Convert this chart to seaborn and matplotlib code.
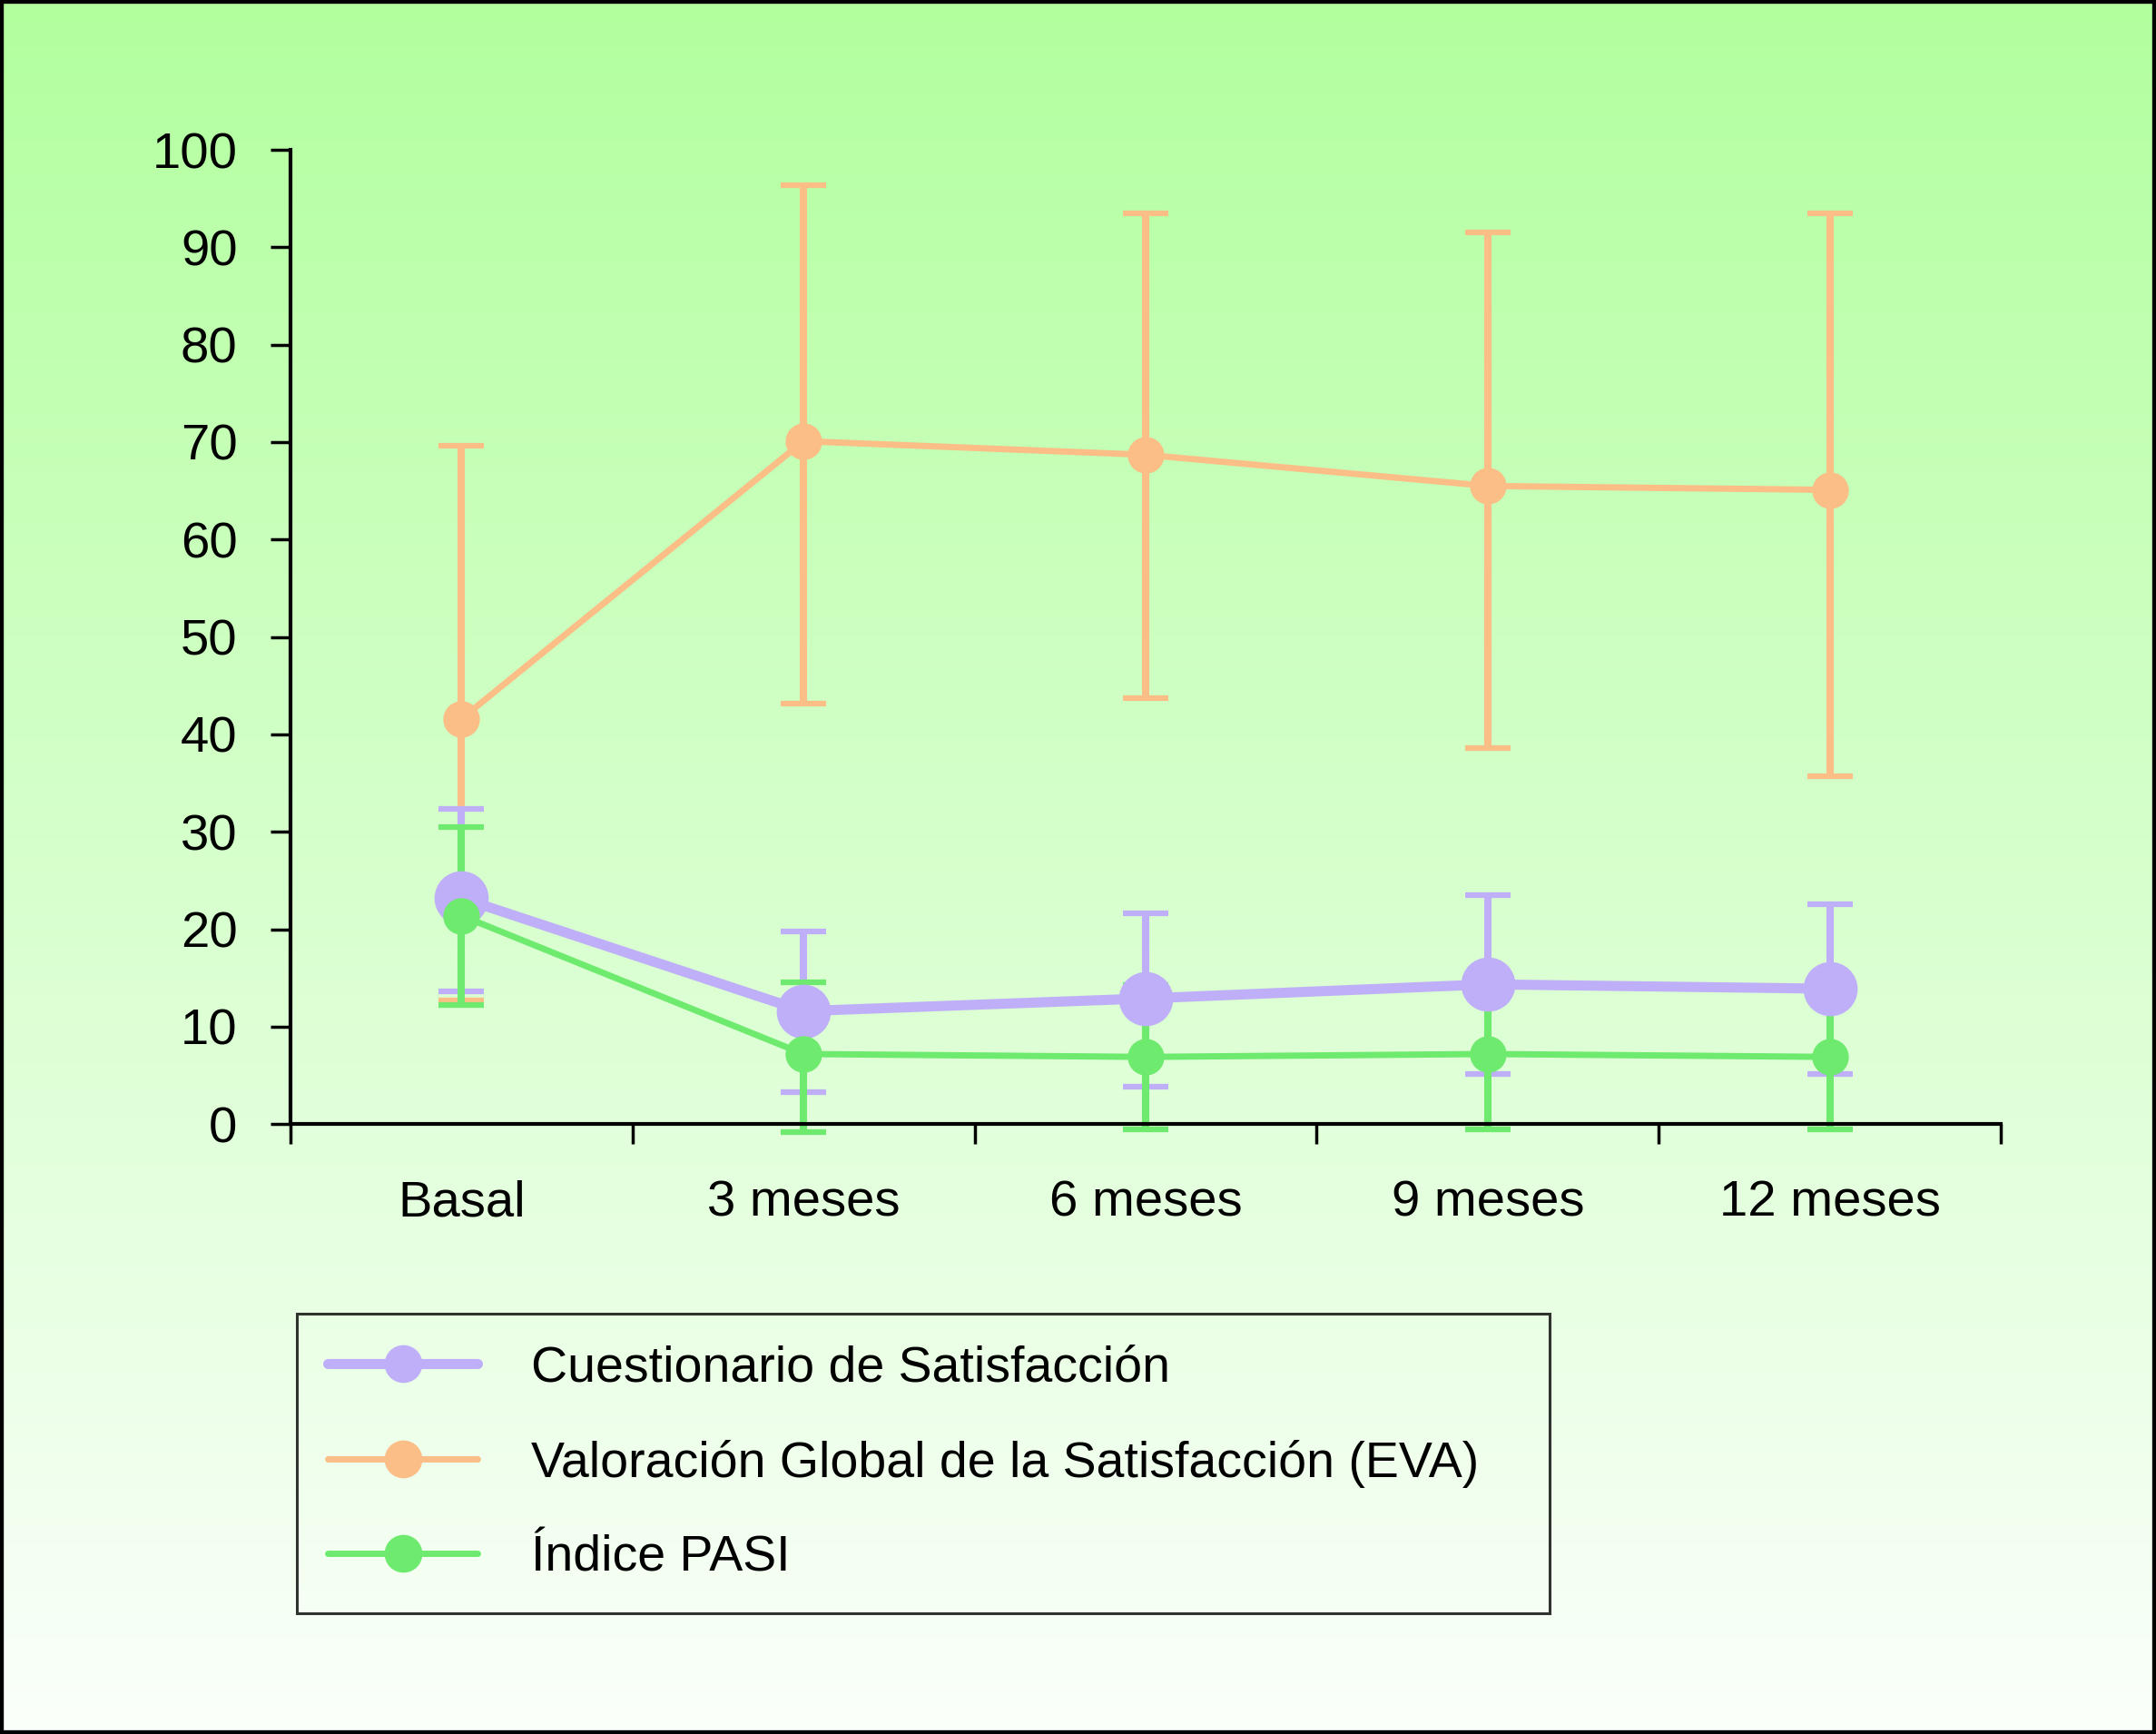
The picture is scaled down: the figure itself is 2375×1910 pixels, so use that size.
import numpy as np
import pandas as pd
import matplotlib
matplotlib.use("Agg")
import matplotlib.pyplot as plt
import seaborn as sns
from matplotlib.colors import LinearSegmentedColormap
from matplotlib.lines import Line2D
from matplotlib.patches import Rectangle

# ---------------- data ----------------
categories = ["Basal", "3 meses", "6 meses", "9 meses", "12 meses"]
series_names = ["Cuestionario de Satisfacción",
                "Valoración Global de la Satisfacción (EVA)",
                "Índice PASI"]
cuest_mean = [23.2, 11.6, 12.9, 14.35, 13.9]
cuest_top = [32.4, 19.8, 21.6, 23.5, 22.55]
cuest_bottom = [13.6, 3.3, 3.8, 5.15, 5.15]
eva_mean = [41.6, 70.1, 68.7, 65.5, 65.1]
eva_top = [69.6, 96.4, 93.5, 91.5, 93.5]
eva_bottom = [12.7, 43.2, 43.7, 38.6, 35.7]
pasi_mean = [21.4, 7.2, 6.9, 7.2, 6.9]
pasi_top = [30.5, 14.6, 14.3, 14.9, 14.3]
pasi_bottom = [12.2, -0.8, -0.5, -0.5, -0.5]
yticks = [0, 10, 20, 30, 40, 50, 60, 70, 80, 90, 100]

colors = {"cuest": "#bfaff8", "eva": "#fbbe87", "pasi": "#6eea6e"}

# ---------------- style ----------------
sns.set_style("ticks")
plt.rcParams['font.family'] = ['Liberation Sans', 'DejaVu Sans']
plt.rcParams['text.color'] = 'black'
plt.rcParams['legend.labelcolor'] = 'black'

fig = plt.figure(figsize=(23.75, 19.10), dpi=100)
fig.patch.set_facecolor("white")

# gradient background
bg = fig.add_axes([0, 0, 1, 1], zorder=-10)
bg.axis("off")
grad = np.linspace(0, 1, 256).reshape(-1, 1)
cmap = LinearSegmentedColormap.from_list("g", ["#b2ff9e", "#fbfffb"])
bg.imshow(grad, aspect="auto", cmap=cmap, extent=[0, 1, 0, 1], origin="upper")
bg.set_xlim(0, 1)
bg.set_ylim(0, 1)

ax = fig.add_axes([0.1347, 0.3517, 0.928 - 0.1347, 0.9136 - 0.3517])
ax.set_facecolor("none")

pos = np.arange(len(categories))
n = len(categories)
df = pd.DataFrame({
    "pos": np.tile(pos, 3),
    "value": cuest_mean + eva_mean + pasi_mean,
    "top": cuest_top + eva_top + pasi_top,
    "bottom": cuest_bottom + eva_bottom + pasi_bottom,
    "serie": np.repeat(["cuest", "eva", "pasi"], n),
})

# error bars first (below lines)
eb_order = [("eva", 2.0), ("cuest", 2.1), ("pasi", 2.2)]
for key, z in eb_order:
    sub = df[df["serie"] == key]
    yerr = np.vstack([sub["value"] - sub["bottom"], sub["top"] - sub["value"]])
    cont = ax.errorbar(sub["pos"], sub["value"], yerr=yerr, fmt="none",
                       ecolor=colors[key], elinewidth=5.8, capsize=18,
                       capthick=4.5, zorder=z)
    for art in cont.get_children():
        art.set_clip_on(False)

line_styles = {
    "eva": dict(lw=5, ms=29, z=3.0),
    "cuest": dict(lw=8, ms=43, z=3.1),
    "pasi": dict(lw=5, ms=29, z=3.2),
}
for key in ["eva", "cuest", "pasi"]:
    sub = df[df["serie"] == key]
    st = line_styles[key]
    sns.lineplot(data=sub, x="pos", y="value", ax=ax, color=colors[key],
                 linewidth=st["lw"], marker="o", markersize=st["ms"],
                 markeredgewidth=0, zorder=st["z"], legend=False,
                 clip_on=False)

ax.set_xlim(-0.5, 4.5)
ax.set_ylim(0, 100)
ax.set_xlabel("")
ax.set_ylabel("")
for s in ["top", "right"]:
    ax.spines[s].set_visible(False)
for s in ["left", "bottom"]:
    ax.spines[s].set_linewidth(3)
    ax.spines[s].set_color("black")

ax.set_yticks(yticks)
ax.set_yticklabels([str(v) for v in yticks])
ax.set_xticks(np.arange(-0.5, 5.0, 1.0))
ax.set_xticklabels([])
ax.set_xticks(pos, minor=True)
ax.set_xticklabels(categories, minor=True)
ax.tick_params(axis="both", which="major", direction="out", length=16,
               width=2.5, color="black", labelsize=40.5, labelcolor="black")
ax.tick_params(axis="y", which="major", pad=26)
ax.tick_params(axis="x", which="minor", length=0, pad=44, labelsize=40.5,
               labelcolor="black")
ax.tick_params(axis="y", which="minor", left=False)

# legend
handles = [
    Line2D([], [], color=colors["cuest"], lw=8, marker="o", markersize=30,
           markeredgewidth=0),
    Line2D([], [], color=colors["eva"], lw=5, marker="o", markersize=30,
           markeredgewidth=0),
    Line2D([], [], color=colors["pasi"], lw=5, marker="o", markersize=30,
           markeredgewidth=0),
]
leg = fig.legend(handles, series_names, loc="upper left",
                 bbox_to_anchor=(0.1377, 0.0702, 0.581, 0.1722),
                 mode="expand", borderaxespad=0, fontsize=40,
                 handlelength=2.97, handletextpad=1.05, labelspacing=0.94,
                 borderpad=0.62, fancybox=False, frameon=True,
                 labelcolor="black")
fr = leg.get_frame()
fr.set_edgecolor("black")
fr.set_linewidth(2.2)
fr.set_facecolor("none")

# outer border
fig.patches.append(Rectangle((0, 0), 1, 1, transform=fig.transFigure,
                             fill=False, edgecolor="black", linewidth=6,
                             zorder=100))

fig.savefig("out.png", dpi=100)
